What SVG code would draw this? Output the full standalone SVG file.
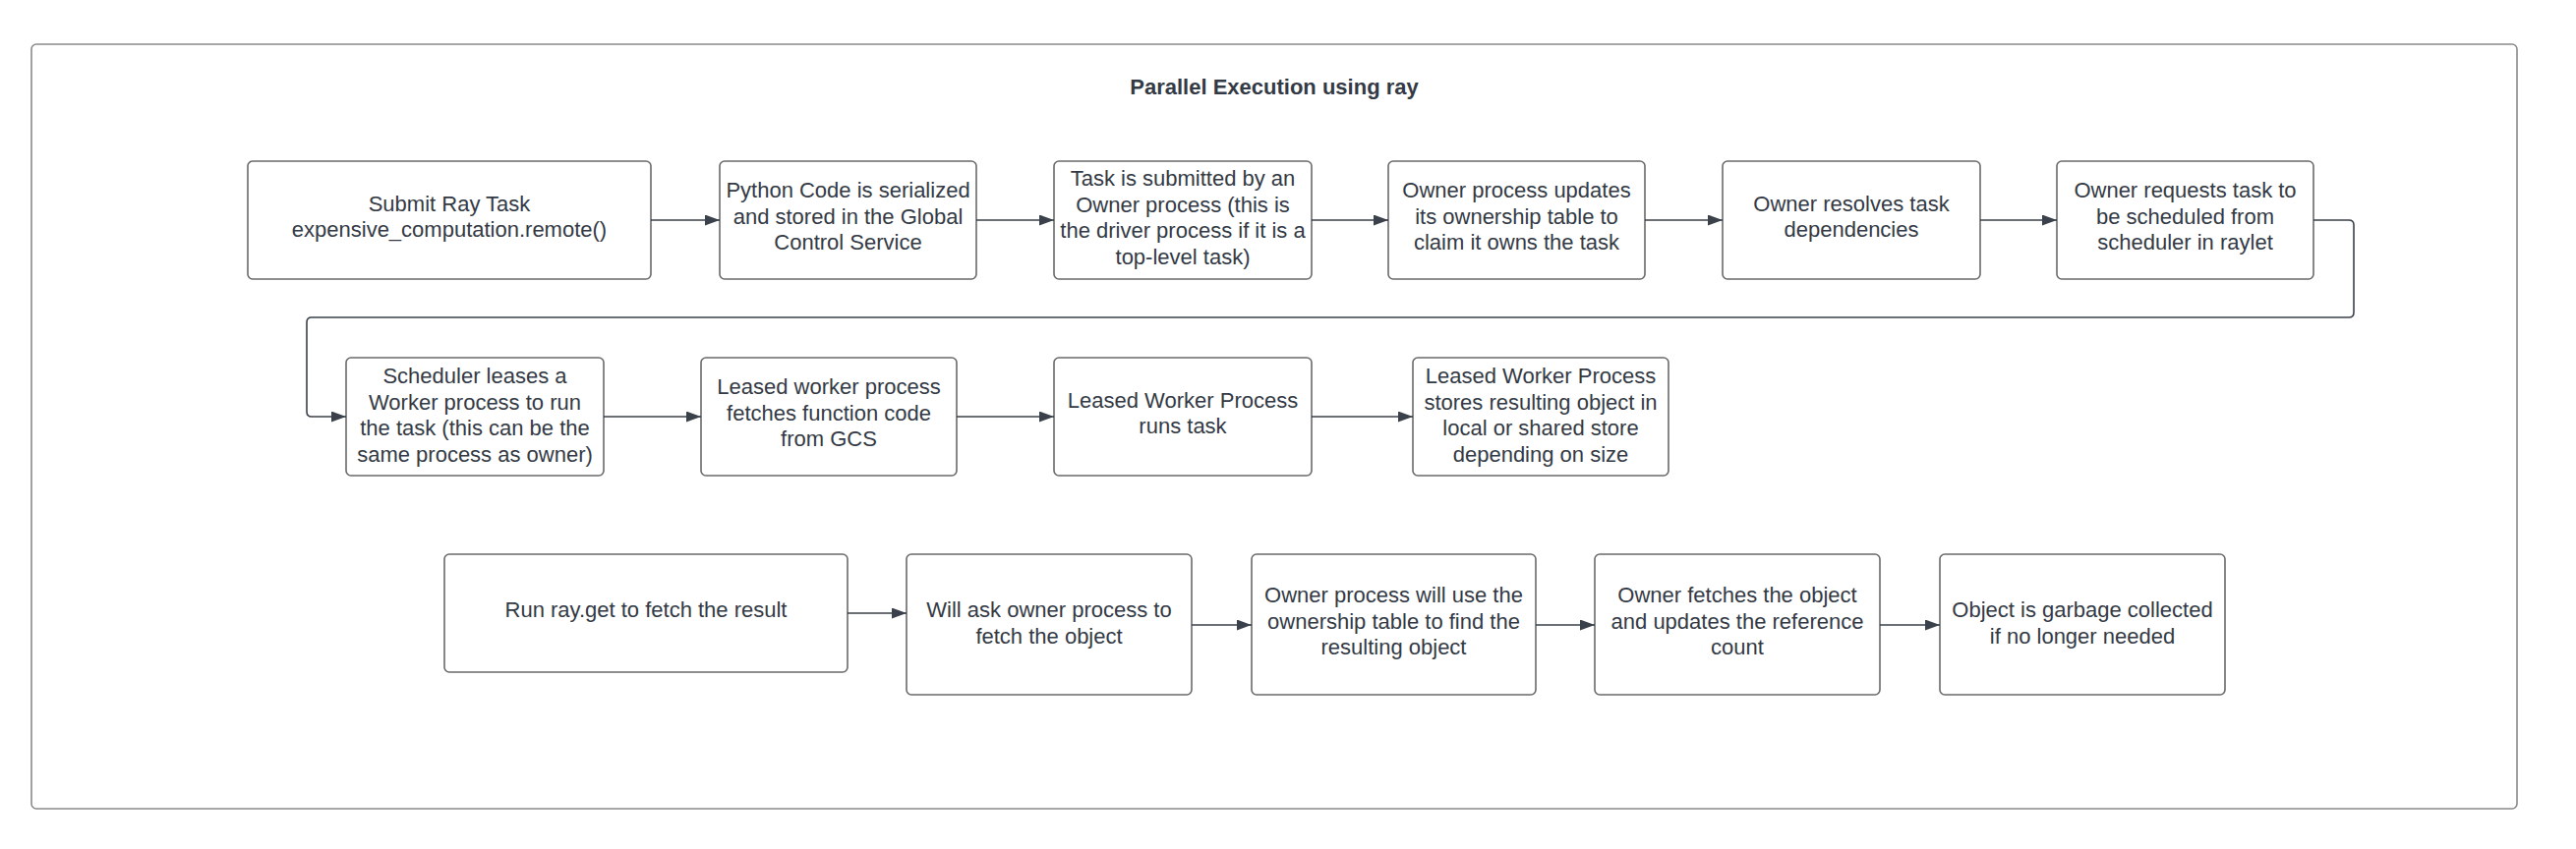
<svg xmlns="http://www.w3.org/2000/svg" width="2620" height="864" viewBox="0 0 2620 864">
<style>
.frame{fill:#ffffff;stroke:#8a8a8a;stroke-width:1.6}
.box{fill:#ffffff;stroke:#6a6a6a;stroke-width:1.6}
.t{font-family:"Liberation Sans",Arial,sans-serif;font-size:22px;fill:#333a45;text-anchor:middle}
.title{font-family:"Liberation Sans",Arial,sans-serif;font-size:22px;font-weight:bold;fill:#333a45;text-anchor:middle}
.c{fill:none;stroke:#3a414a;stroke-width:1.6;marker-end:url(#ah)}
</style>
<defs>
<marker id="ah" markerUnits="userSpaceOnUse" markerWidth="16" markerHeight="12" refX="15" refY="5.5" orient="auto">
<path d="M0,0 L15,5.5 L0,11 z" fill="#3a414a"/>
</marker>
</defs>
<rect width="2620" height="864" fill="#ffffff"/>
<g id="frame">
<rect class="frame" x="32" y="45" width="2528" height="778" rx="5"/>
<text class="title" x="1296" y="96">Parallel Execution using ray</text>
</g>
<g id="n1"><rect class="box" x="252" y="164" width="410" height="120" rx="5"/>
<text class="t" x="457" y="214.5">Submit Ray Task</text><text class="t" x="457" y="241">expensive_computation.remote()</text></g>
<g id="n2"><rect class="box" x="732" y="164" width="261" height="120" rx="5"/>
<text class="t" x="862.5" y="201">Python Code is serialized</text><text class="t" x="862.5" y="227.5">and stored in the Global</text><text class="t" x="862.5" y="254">Control Service</text></g>
<g id="n3"><rect class="box" x="1072" y="164" width="262" height="120" rx="5"/>
<text class="t" x="1203" y="189">Task is submitted by an</text><text class="t" x="1203" y="215.5">Owner process (this is</text><text class="t" x="1203" y="242">the driver process if it is a</text><text class="t" x="1203" y="268.5">top-level task)</text></g>
<g id="n4"><rect class="box" x="1412" y="164" width="261" height="120" rx="5"/>
<text class="t" x="1542.5" y="201">Owner process updates</text><text class="t" x="1542.5" y="227.5">its ownership table to</text><text class="t" x="1542.5" y="254">claim it owns the task</text></g>
<g id="n5"><rect class="box" x="1752" y="164" width="262" height="120" rx="5"/>
<text class="t" x="1883" y="214.5">Owner resolves task</text><text class="t" x="1883" y="241">dependencies</text></g>
<g id="n6"><rect class="box" x="2092" y="164" width="261" height="120" rx="5"/>
<text class="t" x="2222.5" y="201">Owner requests task to</text><text class="t" x="2222.5" y="227.5">be scheduled from</text><text class="t" x="2222.5" y="254">scheduler in raylet</text></g>
<g id="n7"><rect class="box" x="352" y="364" width="262" height="120" rx="5"/>
<text class="t" x="483" y="390">Scheduler leases a</text><text class="t" x="483" y="416.5">Worker process to run</text><text class="t" x="483" y="443">the task (this can be the</text><text class="t" x="483" y="469.5">same process as owner)</text></g>
<g id="n8"><rect class="box" x="713" y="364" width="260" height="120" rx="5"/>
<text class="t" x="843" y="401">Leased worker process</text><text class="t" x="843" y="427.5">fetches function code</text><text class="t" x="843" y="454">from GCS</text></g>
<g id="n9"><rect class="box" x="1072" y="364" width="262" height="120" rx="5"/>
<text class="t" x="1203" y="414.5">Leased Worker Process</text><text class="t" x="1203" y="441">runs task</text></g>
<g id="n10"><rect class="box" x="1437" y="364" width="260" height="120" rx="5"/>
<text class="t" x="1567" y="390">Leased Worker Process</text><text class="t" x="1567" y="416.5">stores resulting object in</text><text class="t" x="1567" y="443">local or shared store</text><text class="t" x="1567" y="469.5">depending on size</text></g>
<g id="n11"><rect class="box" x="452" y="564" width="410" height="120" rx="5"/>
<text class="t" x="657" y="628">Run ray.get to fetch the result</text></g>
<g id="n12"><rect class="box" x="922" y="564" width="290" height="143" rx="5"/>
<text class="t" x="1067" y="628">Will ask owner process to</text><text class="t" x="1067" y="654.5">fetch the object</text></g>
<g id="n13"><rect class="box" x="1273" y="564" width="289" height="143" rx="5"/>
<text class="t" x="1417.5" y="613">Owner process will use the</text><text class="t" x="1417.5" y="639.5">ownership table to find the</text><text class="t" x="1417.5" y="666">resulting object</text></g>
<g id="n14"><rect class="box" x="1622" y="564" width="290" height="143" rx="5"/>
<text class="t" x="1767" y="613">Owner fetches the object</text><text class="t" x="1767" y="639.5">and updates the reference</text><text class="t" x="1767" y="666">count</text></g>
<g id="n15"><rect class="box" x="1973" y="564" width="290" height="143" rx="5"/>
<text class="t" x="2118" y="628">Object is garbage collected</text><text class="t" x="2118" y="654.5">if no longer needed</text></g>
<g id="connectors">
<path class="c" d="M662,224 H732"/>
<path class="c" d="M993,224 H1072"/>
<path class="c" d="M1334,224 H1412"/>
<path class="c" d="M1673,224 H1752"/>
<path class="c" d="M2014,224 H2092"/>
<path class="c" d="M2353,224 H2389 Q2394,224 2394,229 V318 Q2394,323 2389,323 H317 Q312,323 312,328 V419 Q312,424 317,424 H352"/>
<path class="c" d="M614,424 H713"/>
<path class="c" d="M973,424 H1072"/>
<path class="c" d="M1334,424 H1437"/>
<path class="c" d="M862,624 H922"/>
<path class="c" d="M1212,636 H1273"/>
<path class="c" d="M1562,636 H1622"/>
<path class="c" d="M1912,636 H1973"/>
</g>
</svg>
